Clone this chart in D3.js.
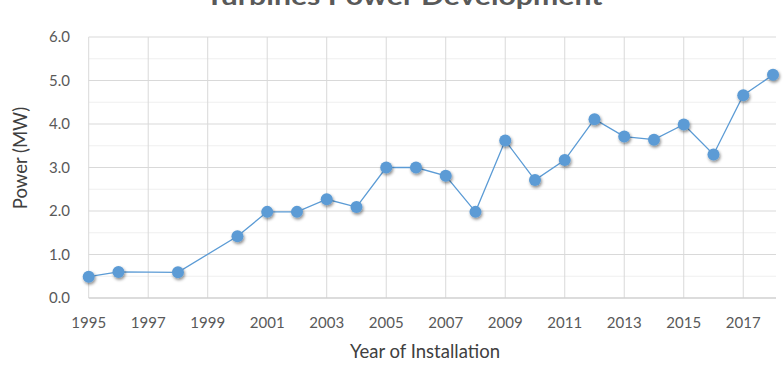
<!DOCTYPE html>
<html><head><meta charset="utf-8">
<script src="https://cdn.jsdelivr.net/npm/d3@7"></script>
<style>body{margin:0;background:#fff}svg{display:block}</style>
</head><body>
<svg id="c" width="783" height="366"></svg>
<script>
const years  = [1995,1996,1998,2000,2001,2002,2003,2004,2005,2006,2007,2008,2009,2010,2011,2012,2013,2014,2015,2016,2017,2018];
const power  = [0.49,0.60,0.59,1.42,1.98,1.98,2.27,2.09,3.00,3.00,2.81,1.98,3.62,2.71,3.17,4.11,3.71,3.64,3.99,3.30,4.66,5.13];
const xTicks = [1995,1997,1999,2001,2003,2005,2007,2009,2011,2013,2015,2017];
const yTicks = [0,1,2,3,4,5,6];
const yMinor = [0.5,1.5,2.5,3.5,4.5,5.5];
const title = "Turbines Power Development";
const xTitle = "Year of Installation";
const yTitle = "Power (MW)";

const svg = d3.select("#c");
const font = "Lato, 'Open Sans', sans-serif";
const x = d3.scaleLinear().domain([1995,2018]).range([88.7,773]);
const y = d3.scaleLinear().domain([0,6]).range([298,37]);
const xL = 88.7, xR = 776;

const defs = svg.append("defs");
const f = defs.append("filter").attr("id","sh").attr("x","-50%").attr("y","-50%").attr("width","200%").attr("height","200%");
f.append("feDropShadow").attr("dx",1).attr("dy",1.8).attr("stdDeviation",1.4).attr("flood-color","#000").attr("flood-opacity",0.45);

svg.append("g").selectAll("line").data(yMinor).join("line")
  .attr("x1",xL).attr("x2",xR).attr("y1",d=>y(d)).attr("y2",d=>y(d))
  .attr("stroke","#efefef").attr("stroke-width",1);
svg.append("g").selectAll("line").data(xTicks).join("line")
  .attr("x1",d=>x(d)).attr("x2",d=>x(d)).attr("y1",y(6)).attr("y2",y(0))
  .attr("stroke","#d9d9d9").attr("stroke-width",1);
svg.append("g").selectAll("line").data(yTicks).join("line")
  .attr("x1",xL).attr("x2",xR).attr("y1",d=>y(d)).attr("y2",d=>y(d))
  .attr("stroke",d=>d===0?"#d0d0d0":"#d9d9d9").attr("stroke-width",d=>d===0?1.3:1);

svg.append("g").selectAll("text").data(yTicks).join("text")
  .attr("x",70).attr("y",d=>y(d)+5).attr("text-anchor","end")
  .attr("font-family",font).attr("font-size",15).attr("fill","#595959")
  .text(d=>d.toFixed(1));
svg.append("g").selectAll("text").data(xTicks).join("text")
  .attr("x",d=>x(d)).attr("y",328).attr("text-anchor","middle")
  .attr("font-family",font).attr("font-size",15).attr("fill","#595959")
  .text(d=>d);

svg.append("text").attr("x",425).attr("y",358).attr("text-anchor","middle")
  .attr("font-family",font).attr("font-size",18.5).attr("fill","#404040").text(xTitle);
svg.append("text").attr("transform","translate(27,158) rotate(-90)").attr("text-anchor","middle")
  .attr("font-family",font).attr("font-size",18.5).attr("fill","#404040").text(yTitle);

svg.append("text").attr("x",404).attr("y",5).attr("text-anchor","middle")
  .attr("font-family",font).attr("font-weight","bold").attr("font-size",25).attr("fill","#595959")
  .attr("textLength",397).attr("lengthAdjust","spacingAndGlyphs").text(title);

const data = years.map((yr,i)=>({yr, v:power[i]}));
svg.append("path").datum(data)
  .attr("d",d3.line().x(d=>x(d.yr)).y(d=>y(d.v)))
  .attr("fill","none").attr("stroke","#5b9bd5").attr("stroke-width",1.3);
svg.append("g").selectAll("circle").data(data).join("circle")
  .attr("cx",d=>x(d.yr)).attr("cy",d=>y(d.v)).attr("r",6)
  .attr("fill","#5b9bd5").attr("filter","url(#sh)");
</script>
</body></html>
